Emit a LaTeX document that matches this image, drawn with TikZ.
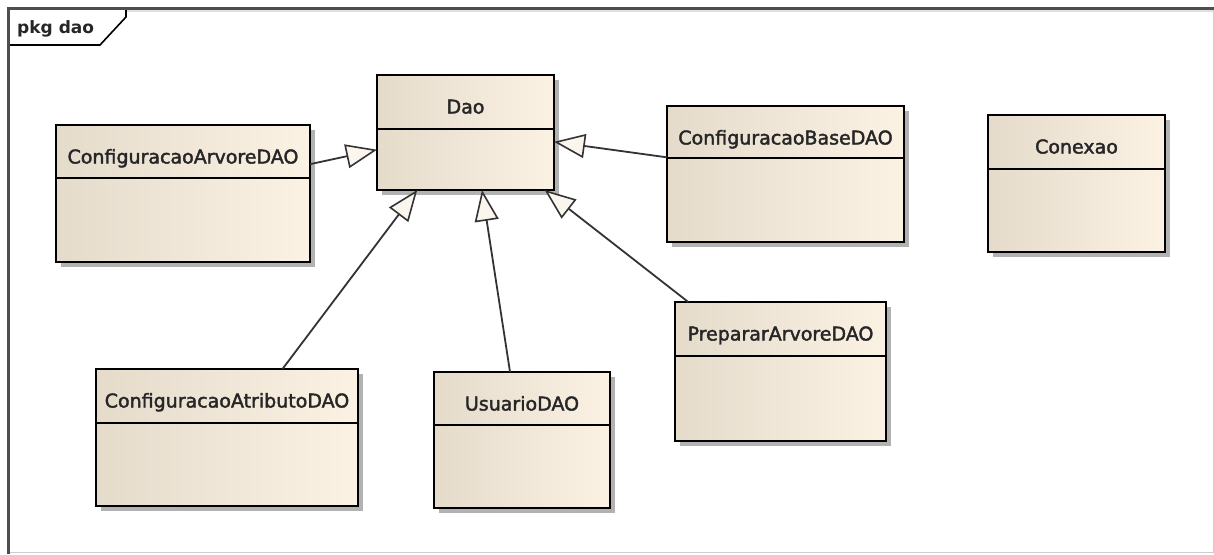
\documentclass[tikz,border=0pt]{standalone}
\usepackage{fontspec}
\usetikzlibrary{arrows.meta,calc,shadows}
\newfontfamily\umlfont{DejaVu Sans}[FakeBold=2]
\newfontfamily\tabfont{DejaVu Sans}

\definecolor{boxL}{RGB}{228,219,203}
\definecolor{boxR}{RGB}{251,242,228}
\definecolor{tipfill}{RGB}{250,246,238}
\definecolor{framedark}{RGB}{78,78,78}
\definecolor{framelight}{RGB}{205,205,205}

\tikzset{
  classbox/.style={draw=black, line width=2.2pt, inner sep=0pt, outer sep=0pt,
    left color=boxL, middle color=boxR, right color=boxR,
    drop shadow={shadow xshift=5pt, shadow yshift=-5pt, fill=black!50, opacity=0.6}},
  divider/.style={draw=black, line width=2.2pt},
  classlabel/.style={font=\umlfont\fontsize{19}{22}\selectfont, anchor=base,
    inner sep=0pt, text=black!85},
  gen/.style={draw=black!80, line width=1.8pt,
    -{Triangle[length=31pt, width=24pt, fill=tipfill, line width=1.6pt]}},
}

% class box: name, x1, y1, x2, y2, divider y, title
\newcommand\umlclass[7]{%
  \node[classbox, minimum width={#4pt-#2pt}, minimum height={#5pt-#3pt}]
    (#1) at ({(#2+#4)/2},{(#3+#5)/2}) {};
  \draw[divider] (#1.west |- 0,#6) -- (#1.east |- 0,#6);
  \node[classlabel] (#1-title) at ({(#2+#4)/2},{#3+38.5}) {#7};
}

\begin{document}
\begin{tikzpicture}[x=1pt, y=-1pt]
  \useasboundingbox (0,0) rectangle (1214,554);
  \fill[white] (0,0) rectangle (1214,554);

  % package frame and its tab
  \draw[framelight, line width=1pt] (8,552) -- (1213,552) -- (1213,8);
  \draw[black!12, line width=2pt] (9,11) -- (1213,11);
  \draw[black, line width=1.6pt, fill=white] (8,8) -- (126,8) -- (126,17) -- (100,45) -- (8,45);
  \draw[framedark, line width=3pt] (8,554) -- (8,8) -- (1214,8);
  \node[font=\tabfont\bfseries\fontsize{17}{20}\selectfont, anchor=base west, inner sep=0pt,
    text=black!85] (pkg) at (17,33) {pkg dao};

  % classes
  \umlclass{dao}{377}{75}{554}{190}{129}{Dao}
  \umlclass{cad}{56}{125}{310}{262}{178}{ConfiguracaoArvoreDAO}
  \umlclass{cbd}{667}{106}{904}{242}{158}{ConfiguracaoBaseDAO}
  \umlclass{con}{988}{115}{1165}{252}{169}{Conexao}
  \umlclass{pad}{675}{302}{886}{441}{356}{PrepararArvoreDAO}
  \umlclass{catd}{96}{369}{358}{506}{423}{ConfiguracaoAtributoDAO}
  \umlclass{usr}{434}{372}{610}{508}{425}{UsuarioDAO}

  % generalizations towards Dao
  \draw[gen] (cad.13.5) -- (dao.191.2);
  \draw[gen] (cbd.172.3) -- (dao.-6.1);
  \draw[gen] (catd.51.2) -- (dao.230.4);
  \draw[gen] (usr.100.8) -- (dao.286.9);
  \draw[gen] (pad.143.1) -- (dao.324.8);
\end{tikzpicture}
\end{document}
